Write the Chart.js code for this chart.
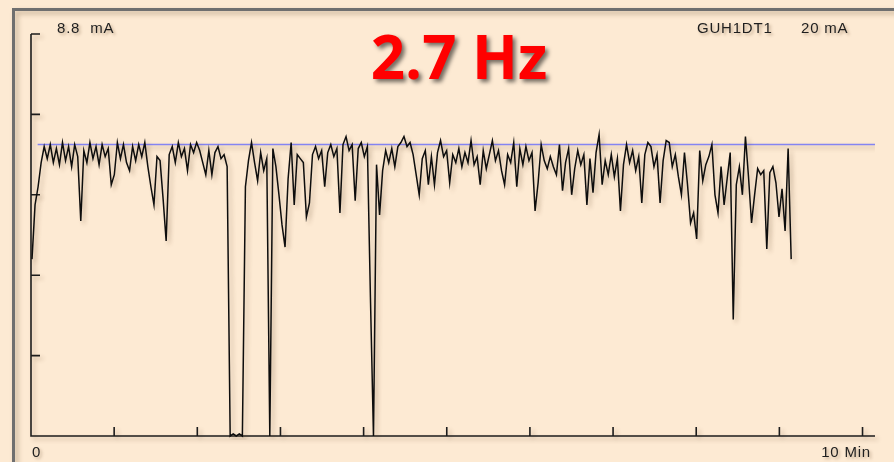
<!DOCTYPE html>
<html>
<head>
<meta charset="utf-8">
<script src="https://cdn.jsdelivr.net/npm/chart.js@4.4.1/dist/chart.umd.min.js"></script>
<style>
  html, body { margin: 0; padding: 0; background: #fdead3; overflow: hidden; }
  canvas { display: block; }
</style>
</head>
<body>
<canvas id="trend" width="894" height="462"></canvas>
<script>
// Channel and recording settings
const CHANNEL = 'GUH1DT1';
const FREQUENCY_LABEL = '2.7 Hz';
const SAMPLE_SECONDS = 2.2;     // logger interval
const START_MIN = 0.012;        // first sample time (min)

// Loop current, one reading per sample (mA)
const CURRENT_MA = [
  8.8, 11.5, 12.4, 13.6, 14.4, 13.8, 14.5, 13.6, 14.3, 13.5,
  14.6, 13.7, 14.4, 13.4, 14.5, 13.9, 10.7, 14.2, 13.6, 14.6,
  13.8, 14.4, 13.5, 14.5, 13.9, 14.3, 12.5, 13.0, 14.6, 13.8,
  14.5, 13.6, 13.2, 14.4, 13.7, 14.5, 13.9, 14.6, 13.4, 12.4,
  11.5, 13.9, 13.7, 11.8, 9.7, 14.0, 14.4, 13.6, 14.6, 13.9,
  14.3, 13.2, 14.5, 14.1, 14.6, 14.2, 13.6, 13.0, 14.2, 13.0,
  14.1, 14.4, 13.8, 14.0, 13.4, 0.0, 0.1, 0.0, 0.1, 0.0,
  12.4, 13.7, 14.6, 13.6, 12.7, 14.1, 13.2, 13.8, 0.0, 14.3,
  13.4, 12.0, 10.5, 9.4, 12.8, 14.6, 11.5, 14.0, 13.8, 13.6,
  10.9, 11.6, 14.0, 14.4, 13.8, 14.2, 12.4, 14.1, 14.5, 13.9,
  14.3, 11.1, 14.5, 14.9, 14.2, 14.5, 11.7, 14.3, 14.6, 13.9,
  14.4, 6.9, 0.0, 13.5, 11.0, 13.2, 14.2, 13.6, 14.3, 13.4,
  14.4, 14.6, 14.9, 14.4, 14.6, 14.0, 13.0, 12.0, 13.8, 14.2,
  12.5, 13.9, 12.5, 14.1, 14.7, 13.9, 14.2, 12.6, 14.0, 13.6,
  14.3, 13.4, 14.1, 13.6, 14.7, 13.5, 13.9, 12.5, 14.2, 13.3,
  14.0, 14.7, 13.7, 14.2, 13.2, 12.5, 14.0, 13.6, 14.6, 12.4,
  14.3, 13.5, 14.4, 13.7, 14.1, 11.2, 12.6, 14.5, 13.7, 13.3,
  13.9, 13.4, 13.0, 14.5, 12.2, 13.6, 14.3, 12.0, 13.3, 14.2,
  13.5, 14.0, 11.5, 13.8, 12.1, 14.1, 15.0, 12.5, 13.7, 13.0,
  14.0, 12.9, 13.8, 11.2, 13.5, 14.5, 13.6, 14.2, 13.2, 13.9,
  11.6, 14.0, 14.6, 14.4, 13.4, 14.0, 11.6, 13.7, 14.7, 14.6,
  13.4, 14.0, 12.9, 12.0, 14.1, 12.5, 10.6, 11.1, 9.8, 14.2,
  12.7, 13.5, 13.9, 14.5, 12.0, 11.1, 13.4, 11.5, 12.8, 14.1,
  5.8, 12.5, 13.4, 12.0, 14.9, 12.9, 10.6, 12.0, 13.3, 13.0,
  13.2, 9.3, 13.1, 13.4, 12.6, 10.9, 12.3, 10.2, 14.3, 8.8
];

// Set-point line
const LIMIT_MA = 14.5;
const LIMIT_START_MIN = 0.08;

// Axis ranges and tick marks
const X_MAX = 10.15;
const Y_MAX = 20;
const X_TICKS = [0, 1, 2, 3, 4, 5, 6, 7, 8, 9, 10];
const Y_TICKS = [0, 4, 8, 12, 16, 20];
const X_UNIT = 'Min';
const Y_UNIT = 'mA';

const BG = '#fdead3';
const INK = '#1c1c1c';

const tracePoints = CURRENT_MA.map((v, i) => ({ x: START_MIN + i * SAMPLE_SECONDS / 60, y: v }));
const limitPoints = [{ x: LIMIT_START_MIN, y: LIMIT_MA }, { x: X_MAX, y: LIMIT_MA }];

const panel = {
  id: 'panel',
  beforeDraw(chart) {
    const { ctx, width, height } = chart;
    ctx.save();
    ctx.fillStyle = BG;
    ctx.fillRect(0, 0, width, height);
    // window frame
    ctx.shadowColor = 'rgba(90,60,30,0.35)';
    ctx.shadowBlur = 5;
    ctx.shadowOffsetX = 3;
    ctx.shadowOffsetY = 3;
    ctx.strokeStyle = '#6f6f6f';
    ctx.lineWidth = 3;
    ctx.beginPath();
    ctx.moveTo(13.5, height + 5);
    ctx.lineTo(13.5, 9.5);
    ctx.lineTo(width + 5, 9.5);
    ctx.stroke();
    ctx.restore();

    // axes with inward ticks
    const xs = chart.scales.x, ys = chart.scales.y;
    const x0 = xs.getPixelForValue(0), xEnd = xs.getPixelForValue(X_MAX);
    const yb = ys.getPixelForValue(0), yt = ys.getPixelForValue(Y_MAX);
    ctx.save();
    ctx.shadowColor = 'rgba(90,60,30,0.3)';
    ctx.shadowBlur = 4;
    ctx.shadowOffsetX = 3;
    ctx.shadowOffsetY = 3;
    ctx.strokeStyle = INK;
    ctx.lineWidth = 1.6;
    ctx.beginPath();
    ctx.moveTo(x0, yt);
    ctx.lineTo(x0, yb);
    ctx.lineTo(xEnd, yb);
    Y_TICKS.forEach(v => {
      const y = ys.getPixelForValue(v);
      ctx.moveTo(x0, y);
      ctx.lineTo(x0 + 9, y);
    });
    X_TICKS.forEach(v => {
      const x = xs.getPixelForValue(v);
      ctx.moveTo(x, yb);
      ctx.lineTo(x, yb - 9);
    });
    ctx.stroke();
    ctx.restore();
  },
  beforeDatasetsDraw(chart) {
    const ctx = chart.ctx;
    ctx.save();
    ctx.shadowColor = 'rgba(90,60,30,0.3)';
    ctx.shadowBlur = 4;
    ctx.shadowOffsetX = 3;
    ctx.shadowOffsetY = 3;
  },
  afterDatasetsDraw(chart) {
    chart.ctx.restore();
  },
  afterDraw(chart) {
    const { ctx } = chart;
    ctx.save();
    ctx.shadowColor = 'rgba(90,60,30,0.35)';
    ctx.shadowBlur = 3;
    ctx.shadowOffsetX = 2;
    ctx.shadowOffsetY = 2;
    ctx.fillStyle = '#1e1e1e';
    ctx.font = '15px "Liberation Sans", Arial, sans-serif';
    ctx.letterSpacing = '0.8px';
    ctx.textBaseline = 'alphabetic';
    const last = CURRENT_MA[CURRENT_MA.length - 1];
    ctx.textAlign = 'left';
    ctx.fillText(last.toFixed(1) + '  ' + Y_UNIT, 57, 33);
    ctx.fillText(CHANNEL, 697, 33);
    ctx.fillText(Y_MAX + ' ' + Y_UNIT, 801, 33);
    ctx.fillText(String(X_TICKS[0]), 32, 457);
    ctx.textAlign = 'right';
    ctx.fillText(X_TICKS[X_TICKS.length - 1] + ' ' + X_UNIT, 871, 457);
    ctx.restore();

    ctx.save();
    ctx.font = 'bold 60px "Open Sans", Lato, sans-serif';
    ctx.fillStyle = '#ff0000';
    ctx.textAlign = 'center';
    ctx.shadowColor = 'rgba(0,0,0,0.55)';
    ctx.shadowBlur = 4;
    ctx.shadowOffsetX = 3;
    ctx.shadowOffsetY = 3;
    ctx.fillText(FREQUENCY_LABEL, 459, 79);
    ctx.restore();
  }
};

new Chart(document.getElementById('trend'), {
  type: 'line',
  data: {
    datasets: [
      {
        label: 'Set-point',
        data: limitPoints,
        borderColor: '#8484f2',
        borderWidth: 1.5,
        pointRadius: 0,
        order: 2
      },
      {
        label: CHANNEL,
        data: tracePoints,
        borderColor: '#0d0d0d',
        borderWidth: 1.5,
        pointRadius: 0,
        tension: 0,
        clip: 4,
        order: 1
      }
    ]
  },
  options: {
    responsive: false,
    animation: false,
    events: [],
    layout: { padding: { left: 31, right: 19, top: 34, bottom: 26 } },
    plugins: { legend: { display: false }, tooltip: { enabled: false } },
    scales: {
      x: { type: 'linear', min: 0, max: X_MAX, display: false },
      y: { type: 'linear', min: 0, max: Y_MAX, display: false }
    }
  },
  plugins: [panel]
});
</script>
</body>
</html>
